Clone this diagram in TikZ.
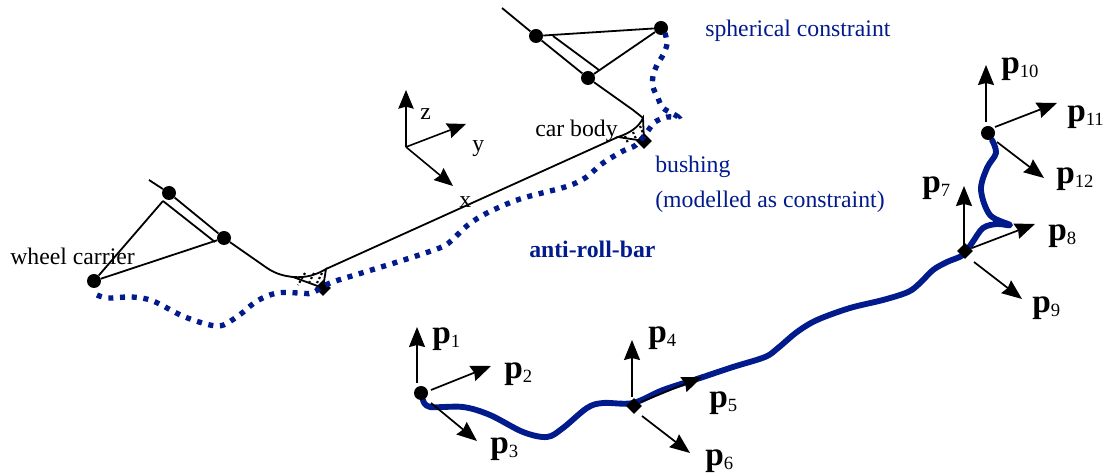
\documentclass[tikz,border=0pt]{standalone}
\usepackage{fontspec}
\setmainfont{Liberation Serif}
\usetikzlibrary{shapes.geometric,arrows.meta}
\definecolor{barblue}{RGB}{2,27,140}
\newcommand{\plab}[1]{{\fontsize{25pt}{27pt}\selectfont\bfseries p}{\fontsize{14pt}{16pt}\selectfont\raisebox{-2.5pt}{#1}}}
\tikzset{
  x=0.75pt,y=-0.75pt,
  ball/.style={circle,fill=black,inner sep=0pt,minimum size=10.5pt},
  dia/.style={diamond,fill=black,inner sep=0pt,minimum size=12pt},
  link/.style={black,line width=1.35pt},
  parr/.style={black,line width=1.3pt,-{Stealth[length=15pt,width=12pt,inset=1.5pt]}},
  aarr/.style={black,line width=1.2pt,-{Stealth[length=14pt,width=11.5pt,inset=1.5pt]}},
  bardot/.style={barblue,line width=4pt,dash pattern=on 3.8pt off 5pt},
  barsolid/.style={barblue,line width=4.4pt,line cap=round,line join=round},
  lab/.style={anchor=base west,inner sep=0pt,font=\fontsize{17.8pt}{20pt}\selectfont},
  bluelab/.style={lab,text=barblue},
  plb/.style={anchor=base west,inner sep=0pt},
}
\begin{document}
\begin{tikzpicture}
\useasboundingbox (0,0) rectangle (1114,473);
% named points, left carrier
\coordinate (ls) at (149,180);
\coordinate (lk) at (163,201);
\coordinate (lm) at (215,242);
\coordinate (lb) at (326,269);
\coordinate (lt) at (293,277);
\coordinate (rs) at (502,8);
\coordinate (rk) at (553,36);
\coordinate (rm) at (599,70);
\coordinate (rt) at (618,137);
\coordinate (rb) at (643,118);
% hatched mounts
\foreach \a/\b in {305/306,314/316,322/324}{
  \draw[black,line width=1.6pt,dash pattern=on 1.6pt off 1.8pt] (\a,273) -- (\b-8,285);
}
\draw[link] (lt) .. controls (306,278) and (316,275) .. (lb) -- (323,288) -- cycle;
\foreach \a/\b in {625/136,633/132,640/126}{
  \draw[black,line width=1.6pt,dash pattern=on 1.6pt off 1.8pt] (\a,\b) -- (\a+3,\b+7);
}
\draw[link] (rt) .. controls (630,133) and (639,127) .. (rb) -- (644,141) -- cycle;
% linkages
\node[ball] (lc) at (94,281) {};
\node[ball] (lu) at (169,193) {};
\node[ball] (ll) at (224,238) {};
\node[ball] (rl) at (536,36) {};
\node[ball] (rm2) at (588,78) {};
\node[ball] (rh) at (661,28) {};
\node[dia] (ld) at (323,288) {};
\node[dia] (rd) at (644,141) {};
\draw[link] (ls) -- (lu) -- (ll) -- (267,268) .. controls (276,274) and (284,276) .. (lt);
\draw[link] (lk) -- (lm);
\draw[link] (lc) -- (lk);
\draw[link] (lc) -- (ll);
\draw[link] (lb) -- (rt);
\draw[link] (rs) -- (rl) -- (rm2) -- (633,110) .. controls (638,114) and (642,117) .. (rb);
\draw[link] (rk) -- (rm);
\draw[link] (rl) -- (rh);
\draw[link] (rm2) -- (rh);
% anti-roll-bar, dotted
\draw[bardot] plot[smooth,tension=0.55] coordinates {(97,295) (108,298) (132,297) (153,301) (185,317) (218,326) (238,316) (257,301) (277,293) (300,293) (312,293) (330,283) (365,272) (410,258) (442,247) (452,240) (468,225) (487,213) (520,199) (565,187) (585,178) (603,163) (623,151) (636,145) (647,132) (655,122) (667,117) (678,117) (663,108) (658,98) (653,87) (653,76) (657,65) (663,55) (667,44) (665,33)};
% axes
\coordinate (o) at (406,147);
\coordinate (oz) at (406,90);
\coordinate (oy) at (466,124);
\coordinate (ox) at (453,186);
\draw[aarr] (o) -- (oz);
\draw[aarr] (o) -- (oy);
\draw[aarr] (o) -- (ox);
\node[lab] (tz) at (420,120) {z};
\node[lab] (ty) at (472,152) {y};
\node[lab] (tx) at (459,208) {x};
% labels
\node[lab] (twc) at (10,265) {wheel carrier};
\node[lab] (tcb) at (535,137) {car body};
\node[bluelab] (tsc) at (705,37) {spherical constraint};
\node[bluelab] (tb1) at (655,173) {bushing};
\node[bluelab] (tb2) at (655,208) {(modelled as constraint)};
\node[bluelab,font=\fontsize{17.8pt}{20pt}\selectfont\bfseries] (tarb) at (529,258) {anti-roll-bar};
% solid bar
\draw[barsolid] plot[smooth,tension=0.55] coordinates {(423,400) (430,407) (463,407) (490,415) (523,432) (547,437) (563,428) (587,408) (603,403) (633,403) (663,390) (700,378) (733,367) (765,357) (778,348) (797,332) (817,320) (850,308) (883,300) (908,292) (920,283) (933,270) (947,262) (963,255) (972,243) (983,228) (997,224) (1010,225) (990,215) (981,190) (987,168) (996,153) (992,140)};
% frames
\node[ball] (p1b) at (421,393) {};
\node[dia] (p4d) at (634,406) {};
\node[dia] (p7d) at (965,251) {};
\node[ball] (p10b) at (988,133) {};
\coordinate (a1s) at (417,383); \coordinate (a1) at (417,327);
\coordinate (a2s) at (431,390); \coordinate (a2) at (491,366);
\coordinate (a3s) at (431,403); \coordinate (a3) at (477,441);
\coordinate (a4s) at (632,397); \coordinate (a4) at (632,340);
\coordinate (a5s) at (641,402); \coordinate (a5) at (702,377);
\coordinate (a6s) at (642,416); \coordinate (a6) at (690,453);
\coordinate (a7s) at (964,245); \coordinate (a7) at (964,186);
\coordinate (a8s) at (972,248); \coordinate (a8) at (1035,224);
\coordinate (a9s) at (974,262); \coordinate (a9) at (1022,299);
\coordinate (a10s) at (986,122); \coordinate (a10) at (986,65);
\coordinate (a11s) at (995,127); \coordinate (a11) at (1057,103);
\coordinate (a12s) at (997,142); \coordinate (a12) at (1044,178);
\foreach \i in {1,...,12}{ \draw[parr] (a\i s) -- (a\i); }
\node[plb] (p1) at (432,344) {\plab{1}};
\node[plb] (p2) at (504,379) {\plab{2}};
\node[plb] (p3) at (490,454) {\plab{3}};
\node[plb] (p4) at (648,343) {\plab{4}};
\node[plb] (p5) at (709,408) {\plab{5}};
\node[plb] (p6) at (705,466) {\plab{6}};
\node[plb] (p7) at (922,193) {\plab{7}};
\node[plb] (p8) at (1048,241) {\plab{8}};
\node[plb] (p9) at (1032,313) {\plab{9}};
\node[plb] (p10) at (1001,74) {\plab{10}};
\node[plb] (p11) at (1067,122) {\plab{11}};
\node[plb] (p12) at (1056,184) {\plab{12}};
\end{tikzpicture}
\end{document}
